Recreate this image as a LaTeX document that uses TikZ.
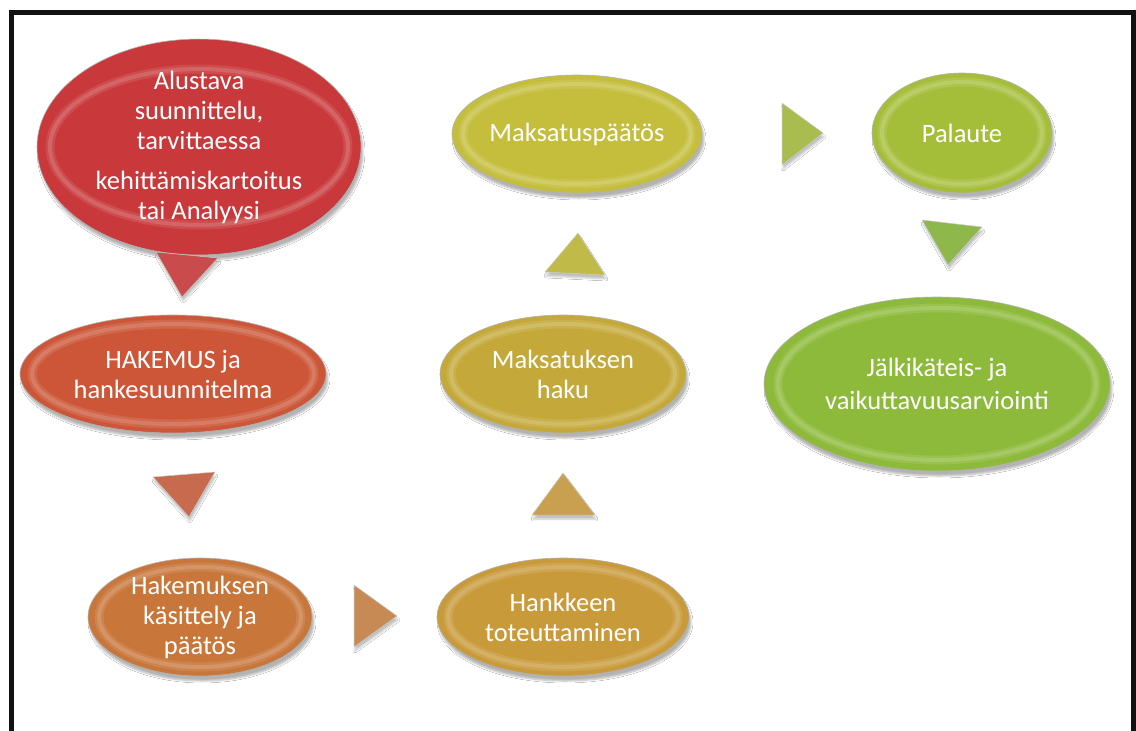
\documentclass[tikz,border=0pt]{standalone}
\usepackage{fontspec}
\setmainfont{Carlito}
\usetikzlibrary{shapes.geometric,shadows.blur}
\definecolor{cA}{HTML}{C9383A}
\definecolor{cB}{HTML}{CC5637}
\definecolor{cC}{HTML}{C8763A}
\definecolor{cD}{HTML}{C99A3A}
\definecolor{cE}{HTML}{C4A93A}
\definecolor{cF}{HTML}{C4BE3C}
\definecolor{cG}{HTML}{A5BE3A}
\definecolor{cH}{HTML}{8DBA3A}
\definecolor{tA}{HTML}{C94B4B}
\definecolor{tB}{HTML}{C86A4E}
\definecolor{tC}{HTML}{C88A55}
\definecolor{tD}{HTML}{C8A050}
\definecolor{tE}{HTML}{C0BA48}
\definecolor{tF}{HTML}{A8BC50}
\definecolor{tG}{HTML}{8FB84C}
\definecolor{frame}{HTML}{111111}
\tikzset{
  bubble/.style={ellipse, inner sep=0pt, text=white, align=center,
    font=\fontsize{26.5}{30}\selectfont,
    draw=black!30, line width=0.6pt,
    blur shadow={shadow xshift=2pt, shadow yshift=-5pt, shadow blur steps=6, shadow opacity=30}},
  ringA/.style={draw=white, opacity=0.10, line width=9pt},
  ringB/.style={draw=white, opacity=0.14, line width=4pt},
  tri/.style={draw=black!20, line width=0.5pt, line join=round,
    blur shadow={shadow xshift=1pt, shadow yshift=-4pt, shadow blur steps=5, shadow opacity=25}},
  framestyle/.style={draw=frame, line width=5pt}
}
\newcommand{\bevel}[3]{%
  \draw[ringA] (#1.center) ellipse [x radius=#2pt, y radius=#3pt];
  \draw[ringB] (#1.center) ellipse [x radius=#2pt, y radius=#3pt];}
\begin{document}
\begin{tikzpicture}[x=1pt,y=-1pt]
\useasboundingbox (0,0) rectangle (1136,731);
\fill[white] (0,0) rectangle (1136,731);
% frame
\draw[framestyle] (11.5,733) -- (11.5,12.5) -- (1133.5,12.5) -- (1133.5,733);

% ellipses
\node[bubble, fill=cA, minimum width=324pt, minimum height=178pt] (n1) at (199,147)
  {Alustava\\suunnittelu,\\tarvittaessa\\[10pt]kehittämiskartoitus\\tai Analyysi};
\bevel{n1}{149}{78}

\node[bubble, fill=cB, minimum width=306pt, minimum height=118pt] (n2) at (173,374)
  {HAKEMUS ja\\hankesuunnitelma};
\bevel{n2}{141}{50}

\node[bubble, fill=cC, minimum width=224pt, minimum height=118pt] (n3) at (200,617)
  {Hakemuksen\\käsittely ja\\päätös};
\bevel{n3}{101}{50}

\node[bubble, fill=cD, minimum width=252pt, minimum height=118pt] (n4) at (563,617)
  {Hankkeen\\toteuttaminen};
\bevel{n4}{115}{50}

\node[bubble, fill=cE, minimum width=246pt, minimum height=118pt] (n5) at (563,374)
  {Maksatuksen\\haku};
\bevel{n5}{112}{50}

\node[bubble, fill=cF, minimum width=250pt, minimum height=118pt] (n6) at (577,134)
  {Maksatuspäätös};
\bevel{n6}{114}{50}

\node[bubble, fill=cG, minimum width=180pt, minimum height=120pt] (n7) at (962,133)
  {Palaute};
\bevel{n7}{80}{51}

\node[bubble, fill=cH, minimum width=346pt, minimum height=174pt,
  font=\fontsize{26.5}{33}\selectfont] (n8) at (937,384)
  {Jälkikäteis- ja\\vaikuttavuusarviointi};
\bevel{n8}{159}{76}

% triangles (arrows)
\fill[tri, fill=tA] (156,252) -- (218,258) -- (182,297) -- cycle;
\fill[tri, fill=tB] (153,477) -- (215,472) -- (189,517) -- cycle;
\fill[tri, fill=tC] (354,585) -- (397,616) -- (354,647) -- cycle;
\fill[tri, fill=tD] (563,473) -- (595,515) -- (532,515) -- cycle;
\fill[tri, fill=tE] (578,233) -- (605,275) -- (545,272) -- cycle;
\fill[tri, fill=tF] (782,103) -- (823,133) -- (782,165) -- cycle;
\fill[tri, fill=tG] (922,220) -- (982,227) -- (948,265) -- cycle;
\end{tikzpicture}
\end{document}
